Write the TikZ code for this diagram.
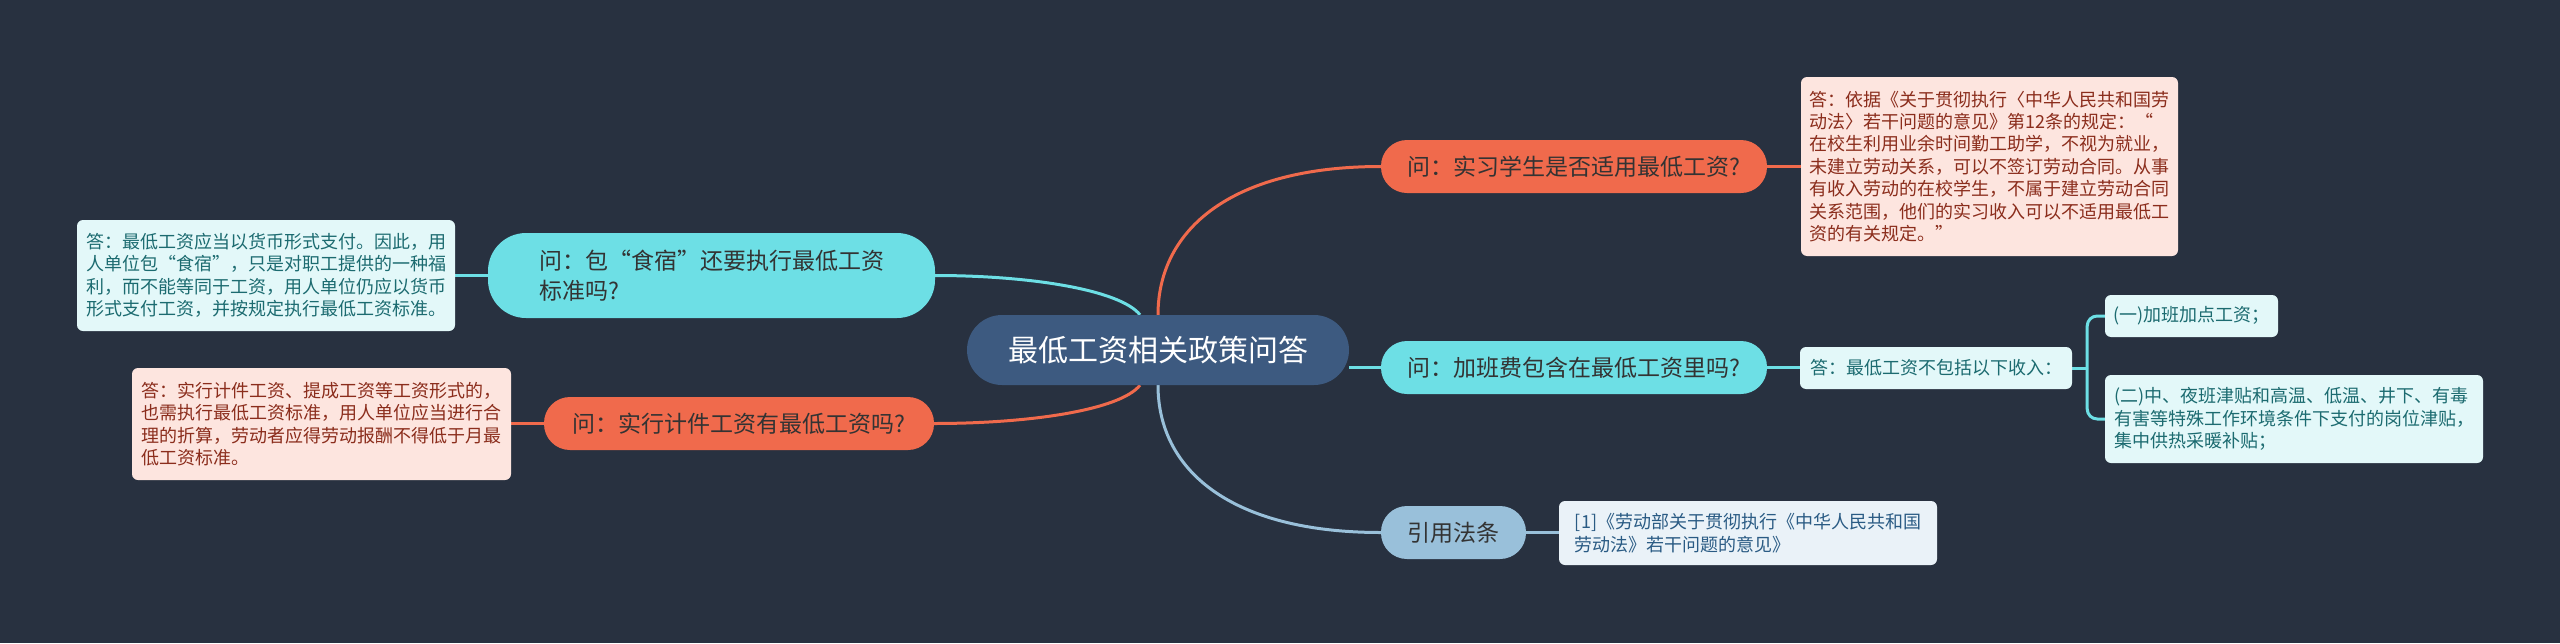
\documentclass[tikz,border=0pt]{standalone}
\usepackage{fontspec}
\setmainfont{Noto Sans CJK SC}
\usetikzlibrary{calc}
\pgfdeclarelayer{bgfill}
\pgfdeclarelayer{lines}
\pgfsetlayers{bgfill,lines,main}
\definecolor{bg}{HTML}{283140}
\definecolor{corange}{HTML}{F06A4C}
\definecolor{ccyan}{HTML}{6DDFE5}
\definecolor{cblue}{HTML}{99C0DA}
\definecolor{ccenter}{HTML}{3D5A80}
\definecolor{pinkfill}{HTML}{FDE5DF}
\definecolor{pinktext}{HTML}{8B2D1C}
\definecolor{cyanfill}{HTML}{E3F8F9}
\definecolor{cyantext}{HTML}{1C6B70}
\definecolor{reffill}{HTML}{EAF2F8}
\definecolor{reftext}{HTML}{2A5B84}
\definecolor{qtext}{HTML}{333333}
\tikzset{
  conn/.style={line width=3pt},
  qnode/.style={rounded corners=26pt, inner sep=0pt, text=qtext,
    font=\fontsize{23}{30.5}\selectfont, align=center},
  ansbox/.style={rounded corners=6pt, inner sep=0pt, align=left,
    font=\fontsize{18}{22.4}\selectfont},
  pinkans/.style={ansbox, fill=pinkfill, text=pinktext},
  cyanans/.style={ansbox, fill=cyanfill, text=cyantext},
}
\begin{document}
\begin{tikzpicture}[x=1pt,y=-1pt]
\useasboundingbox (0,0) rectangle (2560,643);
\begin{pgfonlayer}{bgfill}
\fill[bg] (0,0) rectangle (2560,643);
\end{pgfonlayer}

% nodes
\node[rounded corners=35pt, fill=ccenter, text=white, inner sep=0pt,
  minimum width=382pt, minimum height=70pt,
  font=\fontsize{30}{36}\selectfont] (C) at (1158,350) {最低工资相关政策问答};

\node[qnode, fill=corange, minimum width=386pt, minimum height=53pt] (Q1) at (1574,166.5) {问：实习学生是否适用最低工资?};
\node[qnode, fill=ccyan, minimum width=386pt, minimum height=53pt] (Q2) at (1574,367.5) {问：加班费包含在最低工资里吗?};
\node[qnode, fill=cblue, minimum width=145pt, minimum height=53pt] (Q3) at (1453.5,532.5) {引用法条};
\node[qnode, fill=ccyan, rounded corners=38pt, minimum width=447pt, minimum height=85pt, align=left] (Q4) at (711.5,275.5) {问：包“食宿”还要执行最低工资\\标准吗?\hspace*{184pt}};
\node[qnode, fill=corange, minimum width=390pt, minimum height=53pt] (Q5) at (739,423.5) {问：实行计件工资有最低工资吗?};

\node[pinkans, minimum width=377pt, minimum height=179pt] (A1) at (1989.5,166.5) {答：依据《关于贯彻执行〈中华人民共和国劳\\动法〉若干问题的意见》第12条的规定：“\\在校生利用业余时间勤工助学，不视为就业，\\未建立劳动关系，可以不签订劳动合同。从事\\有收入劳动的在校学生，不属于建立劳动合同\\关系范围，他们的实习收入可以不适用最低工\\资的有关规定。”};

\node[cyanans, minimum width=272pt, minimum height=42pt] (A2) at (1936,368) {答：最低工资不包括以下收入：};
\node[cyanans, minimum width=173pt, minimum height=42pt] (B1) at (2191.5,316) {(一)加班加点工资；};
\node[cyanans, minimum width=378pt, minimum height=88pt] (B2) at (2294,419) {(二)中、夜班津贴和高温、低温、井下、有毒\\有害等特殊工作环境条件下支付的岗位津贴，\\集中供热采暖补贴；};

\node[ansbox, fill=reffill, text=reftext, minimum width=378pt, minimum height=64pt] (R) at (1748,533) {[1]《劳动部关于贯彻执行《中华人民共和国\\劳动法》若干问题的意见》\hspace*{126pt}};

\node[cyanans, minimum width=378pt, minimum height=111pt] (L1) at (266,275.5) {答：最低工资应当以货币形式支付。因此，用\\人单位包“食宿”，只是对职工提供的一种福\\利，而不能等同于工资，用人单位仍应以货币\\形式支付工资，并按规定执行最低工资标准。};
\node[pinkans, minimum width=379pt, minimum height=112pt] (L2) at (321.5,424) {答：实行计件工资、提成工资等工资形式的，\\也需执行最低工资标准，用人单位应当进行合\\理的折算，劳动者应得劳动报酬不得低于月最\\低工资标准。};

% connectors (behind nodes)
\begin{pgfonlayer}{lines}
\coordinate (CNL) at ($(C.north)+(-18,0)$);
\coordinate (CSL) at ($(C.south)+(-18,0)$);
\draw[conn, ccyan] (CNL) .. controls +(-20,-25) and +(95,0) .. (Q4.east);
\draw[conn, corange] (CSL) .. controls +(-20,25) and +(95,0) .. (Q5.east);
\draw[conn, corange] (C.north) .. controls +(0,-85) and +(-150,0) .. (Q1.west);
\draw[conn, cblue] (C.south) .. controls +(0,85) and +(-150,0) .. (Q3.west);
\draw[conn, ccyan] (C.east |- Q2.west) -- (Q2.west);
\draw[conn, corange] (Q1.east) -- (Q1.east -| A1.west);
\draw[conn, ccyan] (Q2.east) -- (Q2.east -| A2.west);
\draw[conn, cblue] (Q3.east) -- (Q3.east -| R.west);
\draw[conn, ccyan] (Q4.west) -- (Q4.west -| L1.east);
\draw[conn, corange] (Q5.west) -- (Q5.west -| L2.east);
\coordinate (J) at ($(A2.east)+(15,0)$);
\draw[conn, ccyan] (A2.east) -- (J);
\draw[conn, ccyan, rounded corners=10pt] (J) |- (B1.west);
\draw[conn, ccyan, rounded corners=10pt] (J) |- (B2.west);
\end{pgfonlayer}
\end{tikzpicture}
\end{document}
